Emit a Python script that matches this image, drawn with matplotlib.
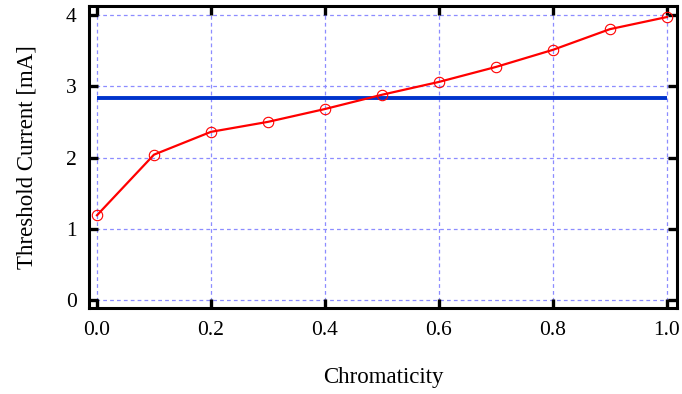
import matplotlib
matplotlib.use("Agg")
import matplotlib.pyplot as plt

# data
chromaticity = [0.0, 0.1, 0.2, 0.3, 0.4, 0.5, 0.6, 0.7, 0.8, 0.9, 1.0]
threshold = [1.19, 2.04, 2.36, 2.50, 2.68, 2.88, 3.06, 3.27, 3.51, 3.80, 3.97]
reference_level = 2.84
x_ticks = [0.0, 0.2, 0.4, 0.6, 0.8, 1.0]
y_ticks = [0, 1, 2, 3, 4]

plt.rcParams['font.family'] = ['Liberation Serif', 'DejaVu Serif']

fig = plt.figure(figsize=(6.82, 3.94), dpi=100)
ax = fig.add_axes([0.1305, 0.218, 0.862, 0.767])

# grid lines
for xv in x_ticks:
    ax.axvline(xv, color='#8c8cff', lw=0.9, dashes=(3, 2.5), zorder=1)
for yv in y_ticks:
    ax.axhline(yv, color='#8c8cff', lw=0.9, dashes=(3, 2.5), zorder=1)

ax.plot([chromaticity[0], chromaticity[-1]], [reference_level, reference_level],
        color='#0033cc', lw=2.8, zorder=2, solid_capstyle='butt')
ax.plot(chromaticity, threshold, color='red', lw=1.6, marker='o', ms=7.5,
        mfc='none', mec='red', mew=0.8, zorder=3, clip_on=False)

ax.set_xlim(-0.014, 1.0175)
ax.set_ylim(-0.112, 4.126)
ax.set_xticks(x_ticks)
ax.set_yticks(y_ticks)
ax.set_xticklabels(['%.1f' % v for v in x_ticks])

for s in ax.spines.values():
    s.set_linewidth(2.2)
ax.tick_params(direction='in', length=6.5, width=2.4, top=True, right=True,
               labelsize=15.5, pad=9)

ax.set_xlabel('Chromaticity', fontsize=16.5, labelpad=20)
ax.set_ylabel('Threshold Current [mA]', fontsize=16.5, labelpad=20)

fig.savefig('out.png', dpi=100)
